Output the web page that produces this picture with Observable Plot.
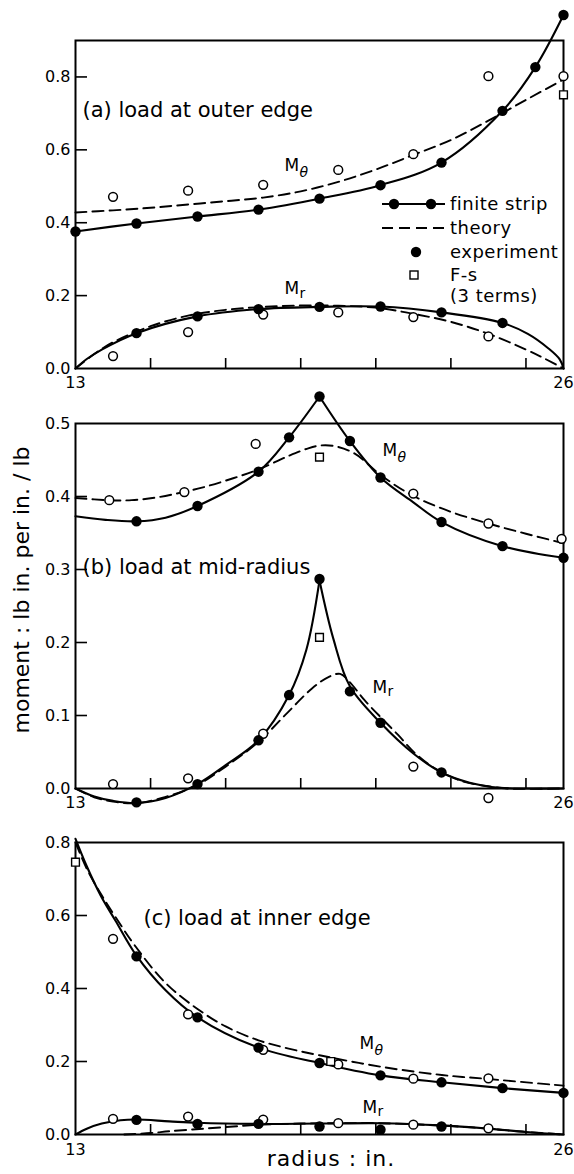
<!DOCTYPE html>
<html>
<head>
<meta charset="utf-8">
<script src="https://cdn.jsdelivr.net/npm/d3@7"></script>
<script src="https://cdn.jsdelivr.net/npm/@observablehq/plot@0.6"></script>
<style>
  html, body { margin: 0; padding: 0; background: #fff; }
  #page { position: relative; width: 574px; height: 1174px; overflow: hidden; font-family: "DejaVu Sans", sans-serif; }
  .panel { position: absolute; left: 0; }
  #overlay { position: absolute; left: 0; top: 0; pointer-events: none; }
</style>
</head>
<body>
<div id="page"></div>
<script>
// ---------------- data ----------------
const xDomain = [13, 26];
const xTickMarks = [15, 17, 19, 21, 23, 25];
const xTickLabels = [13, 26];
const yTitle = "moment : lb in. per in. / lb";
const xTitle = "radius : in.";
const legendLabels = ["finite strip", "theory", "experiment", "F-s", "(3 terms)"];

// (a) load at outer edge
const aTitle = "(a) load at outer edge";
const aYTicks = [0, 0.2, 0.4, 0.6, 0.8];
const aFsMthX = [13, 14.625, 16.25, 17.875, 19.5, 21.125, 22.75, 24.375, 25.25, 26];
const aFsMthY = [0.376, 0.398, 0.417, 0.436, 0.466, 0.503, 0.565, 0.707, 0.827, 0.970];
const aFsMrX = [13, 13.3, 13.7, 14.625, 16.25, 17.875, 19.5, 21.125, 22.75, 24.375, 25.05, 25.6, 25.9, 26];
const aFsMrY = [0, 0.026, 0.052, 0.097, 0.143, 0.163, 0.169, 0.170, 0.154, 0.125, 0.095, 0.055, 0.025, 0];
const aFsMrDotX = [14.625, 16.25, 17.875, 19.5, 21.125, 22.75, 24.375];
const aFsMrDotY = [0.097, 0.143, 0.163, 0.169, 0.170, 0.154, 0.125];
const aThMthX = [13, 14, 15, 16, 17, 18, 19, 20, 21, 22, 23, 24, 25, 26];
const aThMthY = [0.428, 0.434, 0.441, 0.450, 0.459, 0.469, 0.486, 0.512, 0.546, 0.586, 0.627, 0.680, 0.737, 0.793];
const aThMrX = [13, 13.5, 14, 15, 16, 17, 18, 19, 20, 21, 22, 23, 24, 25, 25.5, 26];
const aThMrY = [0, 0.040, 0.072, 0.116, 0.145, 0.161, 0.169, 0.173, 0.172, 0.167, 0.150, 0.128, 0.095, 0.052, 0.027, 0];
const aExpMthX = [14, 16, 18, 20, 22, 24, 26];
const aExpMthY = [0.471, 0.488, 0.504, 0.545, 0.588, 0.802, 0.802];
const aExpMrX = [14, 16, 18, 20, 22, 24];
const aExpMrY = [0.034, 0.100, 0.148, 0.154, 0.141, 0.088];
const aFs3X = [26];
const aFs3Y = [0.751];

// (b) load at mid-radius
const bTitle = "(b) load at mid-radius";
const bYTicks = [0, 0.1, 0.2, 0.3, 0.4, 0.5];
const bLoadX = 19.5;
const bFsMthX = [13, 13.8, 14.625, 15.4, 16.25, 17.875, 18.69, 19.5, 20.31, 21.125, 22, 22.75, 24.375, 26];
const bFsMthY = [0.373, 0.368, 0.366, 0.371, 0.387, 0.434, 0.481, 0.537, 0.476, 0.426, 0.392, 0.365, 0.332, 0.316];
const bFsMthDotX = [14.625, 16.25, 17.875, 18.69, 19.5, 20.31, 21.125, 22.75, 24.375, 26];
const bFsMthDotY = [0.366, 0.387, 0.434, 0.481, 0.537, 0.476, 0.426, 0.365, 0.332, 0.316];
const bFsMrX = [13, 13.5, 14, 14.625, 15.4, 16.25, 17, 17.875, 18.69, 19.15, 19.5, 19.87, 20.31, 21.125, 22, 22.75, 23.5, 24.3, 25, 26];
const bFsMrY = [0, -0.011, -0.017, -0.020, -0.013, 0.006, 0.032, 0.066, 0.128, 0.190, 0.285, 0.205, 0.140, 0.090, 0.048, 0.022, 0.008, 0.001, 0, 0];
const bFsMrDotX = [14.625, 16.25, 17.875, 18.69, 19.5, 20.31, 21.125, 22.75];
const bFsMrDotY = [-0.019, 0.006, 0.066, 0.128, 0.287, 0.133, 0.090, 0.022];
const bThMthX = [13, 13.87, 14.5, 15.2, 15.87, 16.5, 17.2, 17.875, 18.65, 19.2, 19.54, 19.9, 20.43, 21.19, 22.03, 23, 24, 25, 26];
const bThMthY = [0.398, 0.395, 0.395, 0.399, 0.406, 0.414, 0.425, 0.437, 0.455, 0.466, 0.470, 0.469, 0.459, 0.427, 0.400, 0.379, 0.363, 0.349, 0.336];
const bThMrX = [13, 13.5, 14, 14.6, 15.3, 16.25, 17, 17.875, 18.65, 19.3, 19.75, 20.05, 20.3, 20.7, 21.2, 21.6, 22.03, 22.56, 23.3, 24, 24.5, 26];
const bThMrY = [0, -0.012, -0.018, -0.020, -0.013, 0.005, 0.030, 0.064, 0.104, 0.137, 0.153, 0.157, 0.146, 0.121, 0.094, 0.073, 0.049, 0.028, 0.010, 0.003, 0, 0];
const bExpMthX = [13.9, 15.9, 17.8, 22, 24, 25.95];
const bExpMthY = [0.395, 0.406, 0.472, 0.404, 0.363, 0.342];
const bExpMrX = [14, 16, 18, 22, 24];
const bExpMrY = [0.006, 0.014, 0.075, 0.030, -0.013];
const bFs3X = [19.5, 19.5];
const bFs3Y = [0.454, 0.207];

// (c) load at inner edge
const cTitle = "(c) load at inner edge";
const cYTicks = [0, 0.2, 0.4, 0.6, 0.8];
const cFsMthX = [13, 13.3, 13.67, 14.07, 14.625, 15.4, 16.25, 17.875, 19.5, 21.125, 22.75, 24.375, 26];
const cFsMthY = [0.81, 0.735, 0.655, 0.585, 0.49, 0.395, 0.321, 0.238, 0.196, 0.162, 0.143, 0.127, 0.114];
const cFsMthDotX = [14.625, 16.25, 17.875, 19.5, 21.125, 22.75, 24.375, 26];
const cFsMthDotY = [0.488, 0.321, 0.238, 0.196, 0.162, 0.143, 0.127, 0.114];
const cFsMrX = [13, 13.3, 13.7, 14.2, 14.625, 15.5, 16.25, 17.875, 19.5, 21.125, 22.75, 24, 25, 26];
const cFsMrY = [0, 0.016, 0.030, 0.039, 0.041, 0.036, 0.032, 0.029, 0.030, 0.031, 0.025, 0.016, 0.007, 0];
const cFsMrDotX = [14.625, 16.25, 17.875, 19.5, 21.125, 22.75];
const cFsMrDotY = [0.040, 0.029, 0.029, 0.022, 0.013, 0.022];
const cThMthX = [13, 13.3, 13.67, 14.07, 14.6, 15.4, 16.25, 17, 17.875, 18.65, 19.5, 21.17, 22.76, 24, 26];
const cThMthY = [0.80, 0.728, 0.66, 0.595, 0.515, 0.415, 0.344, 0.296, 0.258, 0.236, 0.217, 0.185, 0.163, 0.152, 0.134];
const cThMrX = [14.3, 15, 15.5, 16.3, 17.2, 18, 19, 20, 21, 22, 23, 24, 25, 26];
const cThMrY = [0, 0.004, 0.009, 0.015, 0.022, 0.027, 0.030, 0.031, 0.031, 0.028, 0.023, 0.016, 0.007, 0];
const cExpX = [14, 16, 18, 20, 22, 24];
const cExpMthY = [0.536, 0.329, 0.232, 0.192, 0.153, 0.154];
const cExpMrY = [0.043, 0.049, 0.041, 0.031, 0.027, 0.017];
const cFs3X = [13, 19.8];
const cFs3Y = [0.746, 0.200];

// ---------------- helpers ----------------
const FONT = "DejaVu Sans, sans-serif";
const pts = (xs, ys) => xs.map((x, i) => ({x, y: ys[i]}));

function curve(xs, ys, opts = {}, cusp = null) {
  let p = pts(xs, ys);
  if (cusp != null) {
    p = [
      ...p.filter(d => d.x <= cusp).map(d => ({...d, s: 0})),
      ...p.filter(d => d.x >= cusp).map(d => ({...d, s: 1}))
    ];
  }
  return Plot.line(p, {x: "x", y: "y", z: cusp != null ? "s" : null, curve: "catmull-rom",
    stroke: "black", strokeWidth: 2.1, ...opts});
}
const dashed = {strokeDasharray: "11,6", strokeWidth: 1.9};
const filled = (xs, ys) => Plot.dot(pts(xs, ys), {x: "x", y: "y", r: 5.2, fill: "black", stroke: "none"});
const open = (xs, ys) => Plot.dot(pts(xs, ys), {x: "x", y: "y", r: 4.4, fill: "white", stroke: "black", strokeWidth: 1.5});
const square = (xs, ys) => Plot.dot(pts(xs, ys), {x: "x", y: "y", symbol: "square", r: 4.4, fill: "white", stroke: "black", strokeWidth: 1.4});
const label = (txt, dx, dy, size, extra = {}) =>
  Plot.text([txt], {text: d => d, frameAnchor: "top-left", textAnchor: "start", lineAnchor: "bottom",
    dx, dy, fontSize: size, fill: "black", ...extra});
const mLabel = (sub, dx, dy, sdx, sdy) => [
  label("M", dx, dy, 17),
  label(sub, dx + sdx, dy + sdy, 14, sub === "θ" ? {fontStyle: "italic"} : {})
];

function panel({top, height, mt, mb, yTicks, yMax, xPad, marks}) {
  const frameH = height - mt - mb;
  const frameW = 574 - 75 - 11;
  const svg = Plot.plot({
    width: 574, height,
    marginLeft: 75, marginRight: 11, marginTop: mt, marginBottom: mb,
    x: {domain: xDomain, label: null},
    y: {domain: [0, yMax], label: null},
    style: {background: "transparent", overflow: "visible", fontFamily: FONT, fontSize: "16px", color: "black"},
    marks: [
      Plot.tickX(xTickMarks, {x: d => d, insetTop: frameH - 10, strokeWidth: 1.6}),
      Plot.tickY(yTicks.filter(v => v > 0 && v < yMax), {y: d => d, insetRight: frameW - 12, strokeWidth: 1.6}),
      Plot.axisY({ticks: yTicks, tickSize: 0, tickPadding: 5, tickFormat: d3.format(".1f"), fontSize: 16, label: null}),
      Plot.axisX({ticks: xTickLabels, tickSize: 0, tickPadding: xPad, fontSize: 16, label: null}),
      Plot.frame({strokeWidth: 2, stroke: "black"}),
      ...marks
    ]
  });
  const wrap = document.createElement("div");
  wrap.className = "panel";
  wrap.style.top = top + "px";
  wrap.appendChild(svg);
  document.getElementById("page").appendChild(wrap);
}

// ---------------- panels ----------------
panel({
  top: 0, height: 395, mt: 40, mb: 27, yTicks: aYTicks, yMax: 0.9, xPad: 8,
  marks: [
    curve(aThMthX, aThMthY, dashed),
    curve(aThMrX, aThMrY, dashed),
    curve(aFsMthX, aFsMthY),
    curve(aFsMrX, aFsMrY),
    open(aExpMthX, aExpMthY),
    open(aExpMrX, aExpMrY),
    square(aFs3X, aFs3Y),
    filled(aFsMthX, aFsMthY),
    filled(aFsMrDotX, aFsMrDotY),
    label(aTitle, 7, 76, 21),
    ...mLabel("θ", 209, 130, 15, 6),
    ...mLabel("r", 209, 253, 15, 4)
  ]
});

panel({
  top: 395, height: 415, mt: 28, mb: 22, yTicks: bYTicks, yMax: 0.5, xPad: 8,
  marks: [
    curve(bThMthX, bThMthY, dashed),
    curve(bThMrX, bThMrY, dashed),
    curve(bFsMthX, bFsMthY, {}, bLoadX),
    curve(bFsMrX, bFsMrY, {}, bLoadX),
    open(bExpMthX, bExpMthY),
    open(bExpMrX, bExpMrY),
    square(bFs3X, bFs3Y),
    filled(bFsMthDotX, bFsMthDotY),
    filled(bFsMrDotX, bFsMrDotY),
    label(bTitle, 7, 150, 21),
    ...mLabel("θ", 307, 32, 15, 6),
    ...mLabel("r", 297, 269, 15, 3)
  ]
});

panel({
  top: 810, height: 364, mt: 32, mb: 40, yTicks: cYTicks, yMax: 0.8, xPad: 9,
  marks: [
    curve(cThMthX, cThMthY, dashed),
    curve(cThMrX, cThMrY, dashed),
    curve(cFsMthX, cFsMthY),
    curve(cFsMrX, cFsMrY),
    open(cExpX, cExpMthY),
    open(cExpX, cExpMrY),
    square(cFs3X, cFs3Y),
    filled(cFsMthDotX, cFsMthDotY),
    filled(cFsMrDotX, cFsMrDotY),
    label(cTitle, 68, 82, 21),
    ...mLabel("θ", 284, 206, 15, 6),
    ...mLabel("r", 287, 270, 15, 3)
  ]
});

// ---------------- overlay: axis titles and legend ----------------
const ov = d3.select("#page").append("svg").attr("id", "overlay")
  .attr("width", 574).attr("height", 1174)
  .style("font-family", FONT);

ov.append("text").attr("transform", "translate(29,590) rotate(-90)")
  .attr("text-anchor", "middle").attr("font-size", 22).text(yTitle);
ov.append("text").attr("x", 331).attr("y", 1166)
  .attr("text-anchor", "middle").attr("font-size", 22).attr("letter-spacing", "1px").text(xTitle);

const lg = ov.append("g").attr("font-size", 18);
const rowY = [204, 228, 252, 275, 296];
lg.append("line").attr("x1", 382).attr("x2", 445).attr("y1", rowY[0]).attr("y2", rowY[0])
  .attr("stroke", "black").attr("stroke-width", 2);
[394, 431].forEach(cx => lg.append("circle").attr("cx", cx).attr("cy", rowY[0]).attr("r", 5.2).attr("fill", "black"));
lg.append("line").attr("x1", 382).attr("x2", 445).attr("y1", rowY[1]).attr("y2", rowY[1])
  .attr("stroke", "black").attr("stroke-width", 1.9).attr("stroke-dasharray", "11,6");
lg.append("circle").attr("cx", 416).attr("cy", rowY[2]).attr("r", 5.2).attr("fill", "black");
lg.append("rect").attr("x", 410).attr("y", rowY[3] - 4).attr("width", 8).attr("height", 8)
  .attr("fill", "white").attr("stroke", "black").attr("stroke-width", 1.4);
legendLabels.forEach((t, i) => {
  lg.append("text").attr("x", 450).attr("y", rowY[i] + 6).attr("letter-spacing", "0.5px").text(t);
});
</script>
</body>
</html>
